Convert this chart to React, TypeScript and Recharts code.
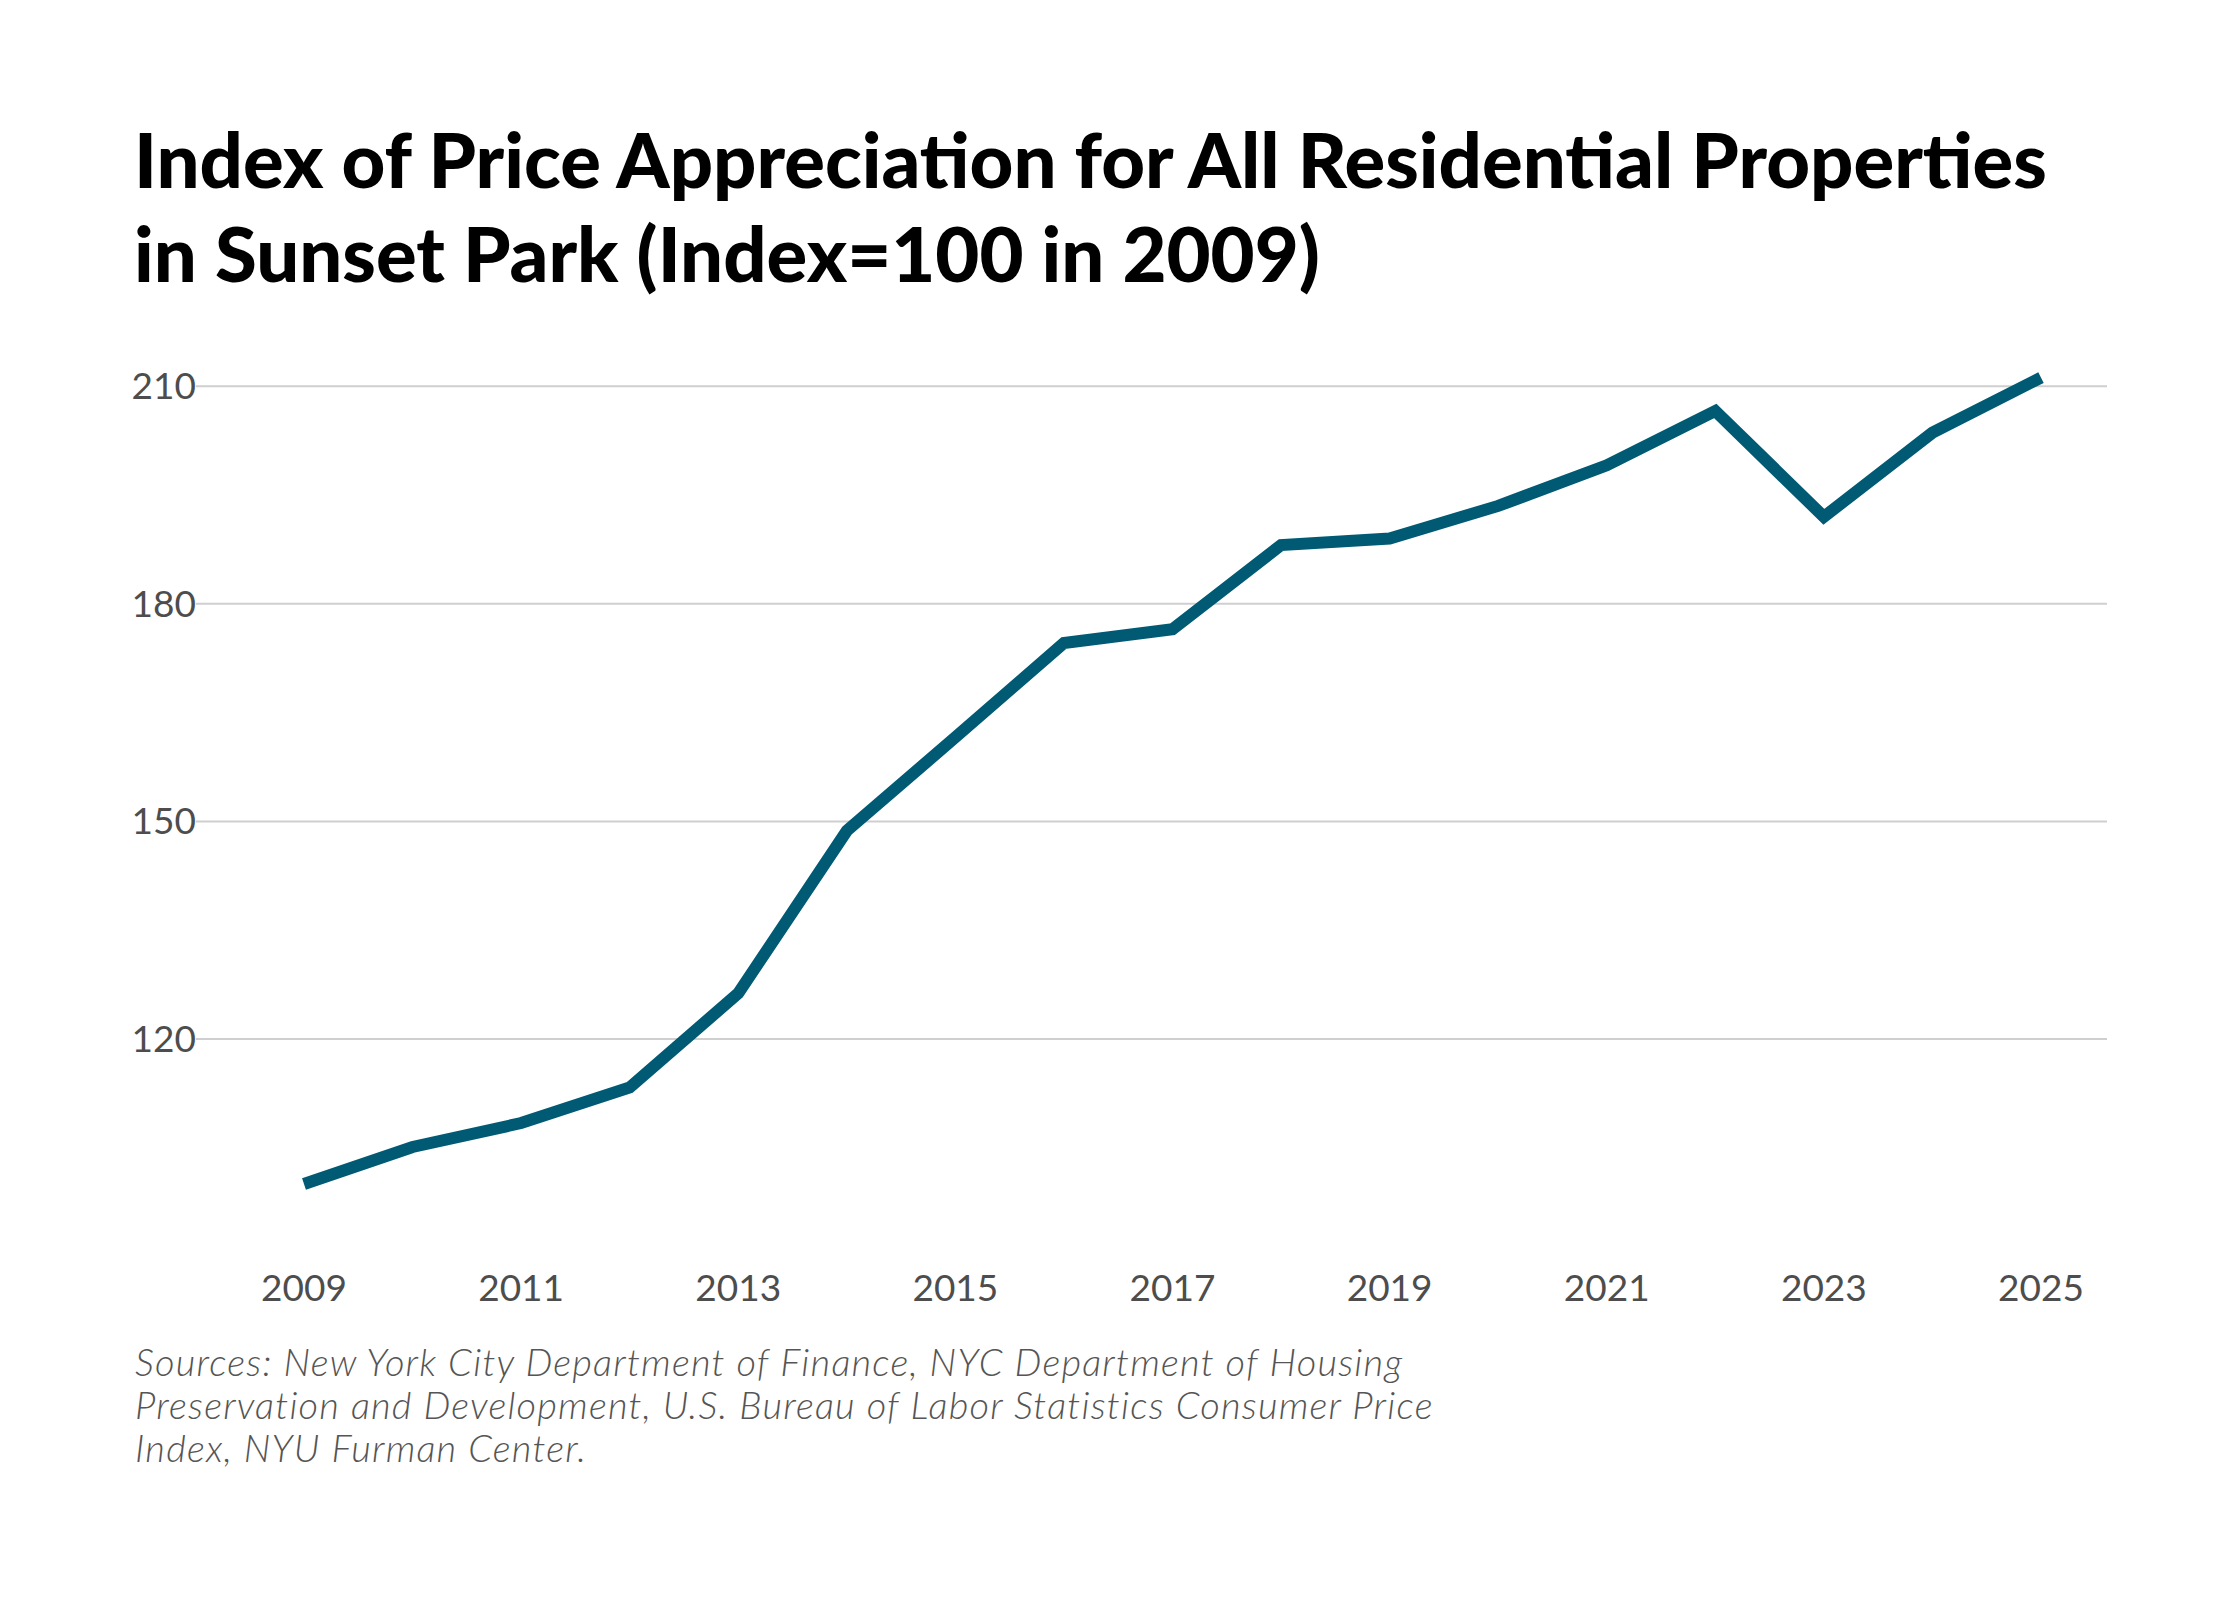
import { LineChart, Line, XAxis, YAxis, ReferenceLine } from 'recharts';

const years = [2009, 2010, 2011, 2012, 2013, 2014, 2015, 2016, 2017, 2018, 2019, 2020, 2021, 2022, 2023, 2024, 2025];
const indexValues = [100, 105.1, 108.4, 113.3, 126.3, 148.7, 161.6, 174.6, 176.5, 188.1, 189.0, 193.5, 199.1, 206.6, 192.0, 203.6, 211.2];
const xTicks = [2009, 2011, 2013, 2015, 2017, 2019, 2021, 2023, 2025];
const yTicks = [120, 150, 180, 210];

const titleLines = [
  'Index of Price Appreciation for All Residential Properties',
  'in Sunset Park (Index=100 in 2009)',
];
const sourceLines = [
  'Sources: New York City Department of Finance, NYC Department of Housing',
  'Preservation and Development, U.S. Bureau of Labor Statistics Consumer Price',
  'Index, NYU Furman Center.',
];

const data = years.map((year, i) => ({ year, value: indexValues[i] }));

const FONT = 'Lato, "Open Sans", sans-serif';
const TICK_COLOR = '#4d4d4d';

const XTick = ({ x, y, payload }: any) => (
  <text x={x} y={y + 51} textAnchor="middle" fill={TICK_COLOR} fontSize={37} fontFamily={FONT}>
    {payload.value}
  </text>
);

const YTick = ({ y, payload }: any) => (
  <text x={196} y={y + 13} textAnchor="end" fill={TICK_COLOR} fontSize={37} fontFamily={FONT}>
    {payload.value}
  </text>
);

export default function App() {
  return (
    <div style={{ position: 'absolute', left: 0, top: 0, width: 2240, height: 1600, background: '#fff', fontFamily: FONT }}>
      <div style={{ position: 'absolute', left: 134, top: 112, fontSize: 76, fontWeight: 900, lineHeight: '94px', color: '#000', whiteSpace: 'nowrap' }}>
        {titleLines.map(line => <div key={line}>{line}</div>)}
      </div>

      <div style={{ position: 'absolute', left: 0, top: 0 }}>
        <LineChart width={2240} height={1330} data={data} margin={{ top: 350, right: 133, left: 136, bottom: 28 }}>
          <XAxis
            dataKey="year"
            type="number"
            domain={[2009, 2025]}
            ticks={xTicks}
            padding={{ left: 108, right: 66 }}
            axisLine={false}
            tickLine={false}
            height={60}
            tick={<XTick />}
          />
          <YAxis
            domain={[92, 215]}
            ticks={yTicks}
            axisLine={false}
            tickLine={false}
            width={60}
            tick={<YTick />}
          />
          {yTicks.map(t => (
            <ReferenceLine key={t} y={t} stroke="#cfcfcf" strokeWidth={2} />
          ))}
          <Line
            type="linear"
            dataKey="value"
            stroke="#005a73"
            strokeWidth={12}
            dot={false}
            isAnimationActive={false}
          />
        </LineChart>
      </div>

      <div style={{ position: 'absolute', left: 135, top: 1340, fontSize: 38, letterSpacing: 1.2, fontStyle: 'italic', fontWeight: 300, lineHeight: '43px', color: '#555', whiteSpace: 'nowrap' }}>
        {sourceLines.map(line => <div key={line}>{line}</div>)}
      </div>
    </div>
  );
}
